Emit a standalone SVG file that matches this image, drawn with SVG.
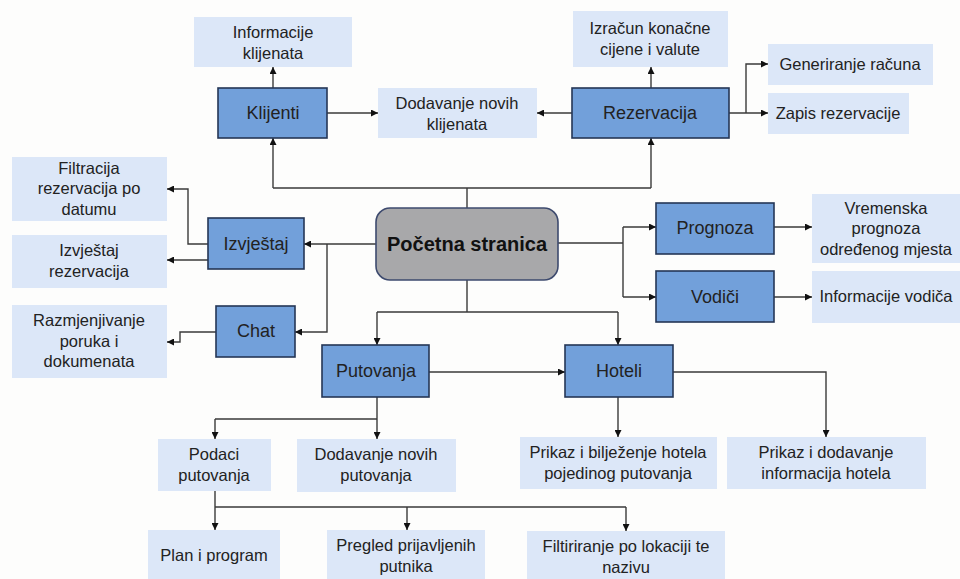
<svg xmlns="http://www.w3.org/2000/svg" width="960" height="579" viewBox="0 0 960 579">
<style>
.bg{fill:#fdfdfc}
.lt{fill:#dce7f8}
.dk{fill:#72a0da;stroke:#253655;stroke-width:1.6}
.ct{fill:#a8a8aa;stroke:#3d4a6e;stroke-width:1.6}
text{font-family:"Liberation Sans",Arial,sans-serif;fill:#222;text-anchor:middle}
.t{font-size:16.5px}
.d{font-size:18px}
.b{font-size:20px;font-weight:bold;fill:#111}
.c{fill:none;stroke:#3a3a3a;stroke-width:1.4}
</style>
<defs>
<marker id="ah" viewBox="0 0 10 10" refX="10" refY="5" markerWidth="7" markerHeight="7" markerUnits="userSpaceOnUse" orient="auto">
<path d="M0,0 L10,5 L0,10 z" fill="#111"/>
</marker>
</defs>
<rect class="bg" x="0" y="0" width="960" height="579"/>

<g id="connectors">
<path class="c" marker-end="url(#ah)" d="M273,88 V67"/>
<path class="c" marker-end="url(#ah)" d="M651,88 V67"/>
<path class="c" d="M467,208 V188 M273,188 H651"/>
<path class="c" marker-end="url(#ah)" d="M273,188 V138"/>
<path class="c" marker-end="url(#ah)" d="M651,188 V138"/>
<path class="c" marker-end="url(#ah)" d="M327,113 H378"/>
<path class="c" marker-end="url(#ah)" d="M572,113 H537"/>
<path class="c" marker-end="url(#ah)" d="M729,113 H768"/>
<path class="c" marker-end="url(#ah)" d="M746,113 V64 H768"/>
<path class="c" marker-end="url(#ah)" d="M376,244 H304"/>
<path class="c" marker-end="url(#ah)" d="M327,244 V332 H295"/>
<path class="c" marker-end="url(#ah)" d="M208,244 H188 V189 H167"/>
<path class="c" marker-end="url(#ah)" d="M208,260 H167"/>
<path class="c" marker-end="url(#ah)" d="M216,332 H180 V342 H167"/>
<path class="c" d="M558,243 H623 M623,227 V297"/>
<path class="c" marker-end="url(#ah)" d="M623,227 H656"/>
<path class="c" marker-end="url(#ah)" d="M623,297 H656"/>
<path class="c" marker-end="url(#ah)" d="M774,227 H812"/>
<path class="c" marker-end="url(#ah)" d="M774,297 H812"/>
<path class="c" d="M467,280 V312 M377,312 H618"/>
<path class="c" marker-end="url(#ah)" d="M377,312 V345"/>
<path class="c" marker-end="url(#ah)" d="M618,312 V345"/>
<path class="c" marker-end="url(#ah)" d="M429,372 H565"/>
<path class="c" d="M377,397 V419 M215,419 H377"/>
<path class="c" marker-end="url(#ah)" d="M215,419 V439"/>
<path class="c" marker-end="url(#ah)" d="M377,419 V439"/>
<path class="c" marker-end="url(#ah)" d="M618,397 V437"/>
<path class="c" marker-end="url(#ah)" d="M673,372 H826 V437"/>
<path class="c" d="M215,491 V507 M215,507 H626"/>
<path class="c" marker-end="url(#ah)" d="M215,507 V530"/>
<path class="c" marker-end="url(#ah)" d="M407,507 V530"/>
<path class="c" marker-end="url(#ah)" d="M626,507 V531"/>
</g>

<g id="pocetna"><rect class="ct" x="376" y="208" width="182" height="72" rx="14"/><text class="b" x="467" y="251">Početna stranica</text></g>

<g id="klijenti"><rect class="dk" x="218" y="88" width="109" height="50"/><text class="d" x="273" y="119">Klijenti</text></g>
<g id="informacije-klijenata"><rect class="lt" x="194" y="17" width="158" height="50"/><text class="t" x="273" y="38">Informacije</text><text class="t" x="273" y="59">klijenata</text></g>
<g id="dodavanje-klijenata"><rect class="lt" x="378" y="88" width="159" height="50"/><text class="t" x="457" y="109">Dodavanje novih</text><text class="t" x="457" y="130">klijenata</text></g>
<g id="rezervacija"><rect class="dk" x="572" y="88" width="157" height="50"/><text class="d" x="650" y="119">Rezervacija</text></g>
<g id="izracun"><rect class="lt" x="573" y="11" width="155" height="56"/><text class="t" x="650" y="34">Izračun konačne</text><text class="t" x="650" y="55">cijene i valute</text></g>
<g id="generiranje"><rect class="lt" x="768" y="44" width="165" height="41"/><text class="t" x="850" y="70">Generiranje računa</text></g>
<g id="zapis"><rect class="lt" x="768" y="93" width="141" height="41"/><text class="t" x="838" y="119">Zapis rezervacije</text></g>

<g id="izvjestaj"><rect class="dk" x="208" y="218" width="96" height="51"/><text class="d" x="256" y="250">Izvještaj</text></g>
<g id="chat"><rect class="dk" x="216" y="306" width="79" height="51"/><text class="d" x="256" y="337">Chat</text></g>
<g id="filtracija"><rect class="lt" x="12" y="157" width="155" height="64"/><text class="t" x="89" y="174">Filtracija</text><text class="t" x="89" y="194">rezervacija po</text><text class="t" x="89" y="215">datumu</text></g>
<g id="izvjestaj-rezervacija"><rect class="lt" x="12" y="235" width="155" height="53"/><text class="t" x="89" y="256">Izvještaj</text><text class="t" x="89" y="277">rezervacija</text></g>
<g id="razmjenjivanje"><rect class="lt" x="12" y="305" width="155" height="73"/><text class="t" x="89" y="326">Razmjenjivanje</text><text class="t" x="89" y="347">poruka i</text><text class="t" x="89" y="367">dokumenata</text></g>

<g id="prognoza"><rect class="dk" x="656" y="203" width="118" height="51"/><text class="d" x="715" y="234">Prognoza</text></g>
<g id="vodici"><rect class="dk" x="656" y="271" width="118" height="51"/><text class="d" x="715" y="303">Vodiči</text></g>
<g id="vremenska"><rect class="lt" x="812" y="194" width="150" height="69"/><text class="t" x="886" y="214">Vremenska</text><text class="t" x="886" y="234">prognoza</text><text class="t" x="886" y="255">određenog mjesta</text></g>
<g id="informacije-vodica"><rect class="lt" x="812" y="271" width="150" height="52"/><text class="t" x="886" y="302">Informacije vodiča</text></g>

<g id="putovanja"><rect class="dk" x="322" y="345" width="107" height="52"/><text class="d" x="376" y="377">Putovanja</text></g>
<g id="hoteli"><rect class="dk" x="565" y="345" width="108" height="52"/><text class="d" x="619" y="377">Hoteli</text></g>
<g id="podaci"><rect class="lt" x="158" y="439" width="113" height="52"/><text class="t" x="214" y="460">Podaci</text><text class="t" x="214" y="481">putovanja</text></g>
<g id="dodavanje-putovanja"><rect class="lt" x="297" y="439" width="159" height="53"/><text class="t" x="376" y="460">Dodavanje novih</text><text class="t" x="376" y="481">putovanja</text></g>
<g id="prikaz-biljezenje"><rect class="lt" x="520" y="437" width="197" height="52"/><text class="t" x="618" y="458">Prikaz i bilježenje hotela</text><text class="t" x="618" y="479">pojedinog putovanja</text></g>
<g id="prikaz-dodavanje"><rect class="lt" x="727" y="437" width="199" height="52"/><text class="t" x="826" y="458">Prikaz i dodavanje</text><text class="t" x="826" y="479">informacija hotela</text></g>
<g id="plan"><rect class="lt" x="148" y="530" width="132" height="50"/><text class="t" x="214" y="561">Plan i program</text></g>
<g id="pregled"><rect class="lt" x="327" y="530" width="158" height="50"/><text class="t" x="406" y="551">Pregled prijavljenih</text><text class="t" x="406" y="572">putnika</text></g>
<g id="filtriranje"><rect class="lt" x="527" y="531" width="198" height="49"/><text class="t" x="626" y="552">Filtiriranje po lokaciji te</text><text class="t" x="626" y="573">nazivu</text></g>
</svg>
